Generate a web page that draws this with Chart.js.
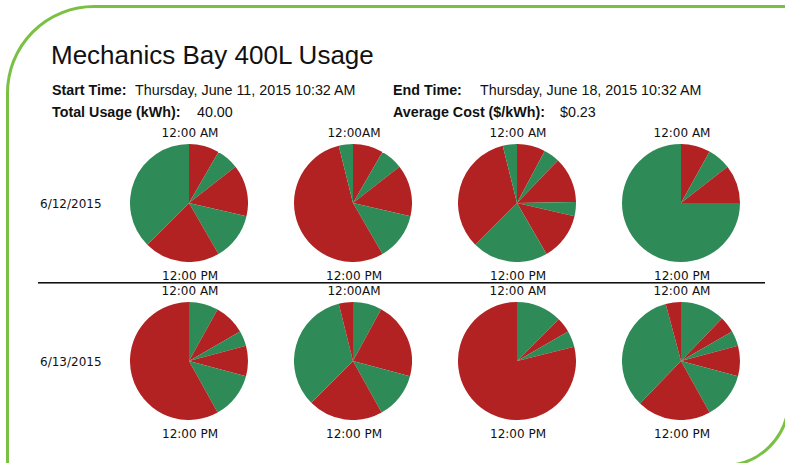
<!DOCTYPE html>
<html>
<head>
<meta charset="utf-8">
<script src="https://cdn.jsdelivr.net/npm/chart.js@4/dist/chart.umd.min.js"></script>
<style>
  body { margin:0; width:785px; height:463px; overflow:hidden; background:#fff; position:relative;
         font-family:"Liberation Sans", Arial, sans-serif; color:#111; }
  #frame { position:absolute; left:6px; top:5px; width:784px; height:462px; box-sizing:border-box;
           border:3px solid #7ac143; border-top-left-radius:88px; border-bottom-right-radius:66px; }
  .txt { position:absolute; white-space:nowrap; }
  #title { left:51px; top:42px; font-size:26px; line-height:26px; }
  .info { font-size:14.3px; line-height:14px; }
  .info b { font-weight:bold; }
  .lbl { position:absolute; font-family:"DejaVu Sans", Verdana, sans-serif; font-size:12px; line-height:12px;
         white-space:nowrap; transform:translateX(-50%); }
  .day { position:absolute; font-family:"DejaVu Sans", Verdana, sans-serif; font-size:12px; line-height:12px; left:40px; }
  #sep { position:absolute; left:38px; top:282px; width:727px; height:1px; background:#111; border-bottom:1px solid #777; }
  canvas { position:absolute; }
</style>
</head>
<body>
<div id="frame"></div>
<div id="title" class="txt">Mechanics Bay 400L Usage</div>
<div class="txt info" style="left:52px;top:83px"><b>Start Time:</b></div>
<div class="txt info" style="left:135px;top:83px">Thursday, June 11, 2015 10:32 AM</div>
<div class="txt info" style="left:393px;top:83px"><b>End Time:</b></div>
<div class="txt info" style="left:480px;top:83px">Thursday, June 18, 2015 10:32 AM</div>
<div class="txt info" style="left:52px;top:105px"><b>Total Usage (kWh):</b></div>
<div class="txt info" style="left:197px;top:105px">40.00</div>
<div class="txt info" style="left:393px;top:105px"><b>Average Cost ($/kWh):</b></div>
<div class="txt info" style="left:560px;top:105px">$0.23</div>
<div id="sep"></div>
<script>
const days = ["6/12/2015", "6/13/2015"];
const startLabels = ["12:00 AM", "12:00AM", "12:00 AM", "12:00 AM"];
const endLabel = "12:00 PM";

// slice lengths in minutes, clockwise from 12:00 AM (12 hours per pie)
const minutes = [
  [60, 44, 102, 94, 150, 270],
  [60, 44, 102, 94, 392, 28],
  [56, 32, 90, 28, 94, 150, 242, 28],
  [58, 46, 76, 540],
  [58, 62, 30, 60, 92, 418],
  [57, 153, 92, 148, 242, 28],
  [90, 30, 32, 568],
  [88, 32, 30, 60, 92, 146, 242, 30]
];
// 1 = high (red), 0 = low (green)
const states = [
  [1, 0, 1, 0, 1, 0],
  [1, 0, 1, 0, 1, 0],
  [1, 0, 1, 0, 1, 0, 1, 0],
  [1, 0, 1, 0],
  [0, 1, 0, 1, 0, 1],
  [0, 1, 0, 1, 0, 1],
  [0, 1, 0, 1],
  [0, 1, 0, 1, 0, 1, 0, 1]
];

const RED = "#b22222";
const GREEN = "#2e8b57";
const colX = [189, 353, 517, 681];
const rowY = [203, 361];
const size = 118;

function addLabel(cls, text, x, y) {
  const d = document.createElement("div");
  d.className = cls;
  d.textContent = text;
  d.style.left = x + "px";
  d.style.top = y + "px";
  document.body.appendChild(d);
}

days.forEach((day, r) => {
  addLabel("day", day, 40, r == 0 ? 198 : 356);
  colX.forEach((cx, c) => {
    const i = r * 4 + c;
    const cy = rowY[r];
    addLabel("lbl", startLabels[c], cx + 1, cy - 76);
    addLabel("lbl", endLabel, cx + 1, cy + 67);

    const cv = document.createElement("canvas");
    cv.width = size;
    cv.height = size;
    cv.style.left = (cx - size / 2) + "px";
    cv.style.top = (cy - size / 2) + "px";
    document.body.appendChild(cv);

    new Chart(cv, {
      type: "pie",
      data: {
        labels: minutes[i].map((m, k) => "slice " + (k + 1)),
        datasets: [{
          data: minutes[i],
          backgroundColor: states[i].map(s => s ? RED : GREEN),
          borderWidth: 0
        }]
      },
      options: {
        responsive: false,
        animation: false,
        plugins: { legend: { display: false }, tooltip: { enabled: false } },
        layout: { padding: 0 }
      }
    });
  });
});
</script>
</body>
</html>
